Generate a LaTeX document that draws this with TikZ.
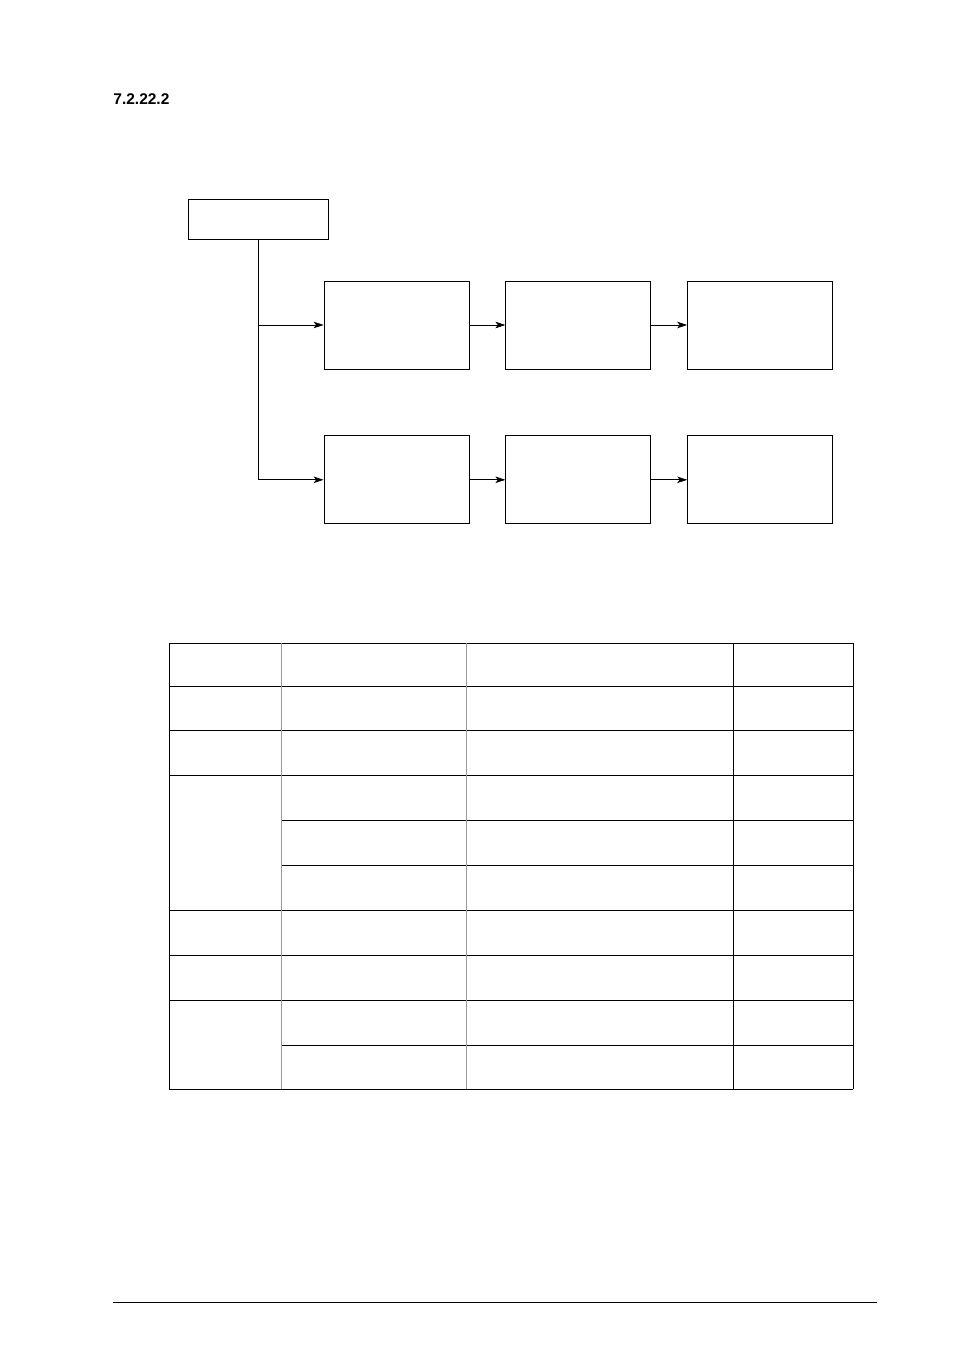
\documentclass[tikz,border=0pt]{standalone}
\usepackage{fontspec}
\setmainfont{Liberation Sans}
\usetikzlibrary{positioning}
\usetikzlibrary{arrows.meta}

\begin{document}
\begin{tikzpicture}[
            x = 1pt, y = -1pt, % one unit per pixel, y going down
            > = {Stealth[length = 10pt, width = 6.5pt, inset = 2.5pt]}, % arrow head style
            node distance = 36pt, % gap between boxes
            line width = 0.8pt
        ]

        \tikzstyle{block}=[
            draw,
            minimum width = 145pt,
            minimum height = 88pt,
            inner sep = 0pt
        ]
        \tikzstyle{head}=[draw, minimum width = 140pt, minimum height = 40pt, inner sep = 0pt]

        \useasboundingbox (0,0) rectangle (954,1351);

        % section number
        \node[anchor = base west, inner sep = 0pt, font = \bfseries\fontsize{15.5pt}{18pt}\selectfont] (num) at (113,105) {7.2.22.2};

        % flow chart
        \node[head] (T) at (258,219) {};
        \node[block] (A1) at (396.5,325) {};
        \node[block] (A2) [right = of A1] {};
        \node[block] (A3) [right = of A2] {};

        \node[block] (B1) [below = 66pt of A1] {};
        \node[block] (B2) [right = of B1] {};
        \node[block] (B3) [right = of B2] {};

        \coordinate (J1) at (T.south |- A1.west);
        \coordinate (J2) at (T.south |- B1.west);

        \draw (T.south) -- (J2);
        \draw[->] (J1) -- (A1.west);
        \draw[->] (J2) -- (B1.west);
        \path[->] (A1) edge (A2);
        \path[->] (A2) edge (A3);
        \path[->] (B1) edge (B2);
        \path[->] (B2) edge (B3);

        % table
        \foreach \y in {643,686,730,775,910,955,1000,1089}
            \draw (169,\y) -- (853,\y);
        \foreach \y in {820,865,1045}
            \draw (281,\y) -- (853,\y);
        \foreach \x in {169,733,853}
            \draw (\x,643) -- (\x,1089);
        \foreach \x in {281,466}
            \draw[gray!80] (\x,643) -- (\x,1089);

        % foot rule
        \draw (113,1302) -- (877,1302);

  \end{tikzpicture}
\end{document}
